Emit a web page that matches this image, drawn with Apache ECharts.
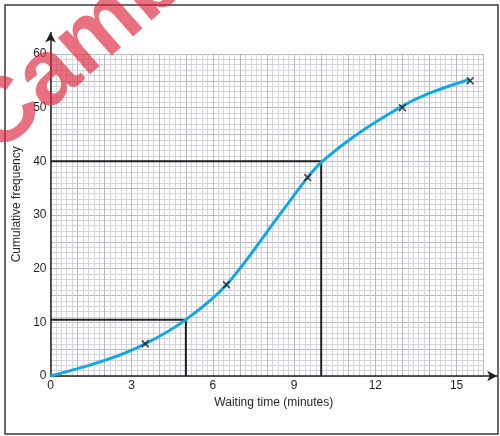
<!DOCTYPE html>
<html><head><meta charset="utf-8">
<script src="https://cdn.jsdelivr.net/npm/echarts@6/dist/echarts.min.js"></script>
<style>html,body{margin:0;padding:0;background:#fff}#c{width:500px;height:436px}</style>
</head><body><div id="c"></div>
<script>
// ---- data ----
const xTickLabels = [0, 3, 6, 9, 12, 15];
const yTickLabels = [0, 10, 20, 30, 40, 50, 60];
const plottedTimes = [3.5, 6.5, 9.5, 13, 15.5];
const plottedCumFreq = [6, 17, 37, 50, 55];
const curveTimes = [0, 2, 3.5, 5, 6.5, 8.5, 9.5, 10, 11.2, 13, 14, 15.5];
const curveCumFreq = [0, 2.9, 6, 10.5, 17, 30.3, 37, 39.8, 44.6, 50.3, 52.7, 55.3];
const lowerReadTimes = [0, 5, 5];
const lowerReadFreqs = [10.5, 10.5, 0];
const upperReadTimes = [0, 10, 10];
const upperReadFreqs = [40, 40, 0];
const xAxisTitle = 'Waiting time (minutes)';
const yAxisTitle = 'Cumulative frequency';
const watermarkText = 'Cambridge';

// ---- layout ----
const LEFT = 50.5, BASE = 376;
const XPX = 27.07, YPX = 322 / 60;
const PAPER_X = 16, PAPER_Y = 60;
const AXIS_XMAX = 16.5, AXIS_YMAX = 64;
const INK = '#231f20';
const FONT = '"Liberation Sans", Arial, sans-serif';

const zip = (a, b) => a.map((v, i) => [v, b[i]]);

const chart = echarts.init(document.getElementById('c'), null, {renderer: 'canvas'});
chart.setOption({
  animation: false,
  backgroundColor: '#ffffff',
  grid: [
    {left: LEFT, top: BASE - PAPER_Y * YPX, width: PAPER_X * XPX, height: PAPER_Y * YPX},
    {left: LEFT, top: BASE - AXIS_YMAX * YPX, width: AXIS_XMAX * XPX, height: AXIS_YMAX * YPX}
  ],
  xAxis: [
    {gridIndex: 0, type: 'value', min: 0, max: PAPER_X, interval: 1,
      axisLine: {show: false}, axisTick: {show: false}, axisLabel: {show: false},
      splitLine: {show: true, lineStyle: {color: '#b8b8c0', width: 1}},
      minorTick: {show: false, splitNumber: 5},
      minorSplitLine: {show: true, lineStyle: {color: '#d4d4da', width: 1}}},
    {gridIndex: 1, type: 'value', min: 0, max: AXIS_XMAX,
      axisLine: {show: true, onZero: false, symbol: ['none', 'arrow'], symbolSize: [8, 10],
        lineStyle: {color: INK, width: 1.5}},
      axisTick: {show: false}, splitLine: {show: false},
      axisLabel: {customValues: xTickLabels, color: INK, fontSize: 12, fontFamily: FONT, margin: 4},
      name: xAxisTitle, nameLocation: 'middle', nameGap: 19,
      nameTextStyle: {color: INK, fontSize: 12, fontFamily: FONT}}
  ],
  yAxis: [
    {gridIndex: 0, type: 'value', min: 0, max: PAPER_Y, interval: 5,
      axisLine: {show: false}, axisTick: {show: false}, axisLabel: {show: false},
      splitLine: {show: true, lineStyle: {color: '#b8b8c0', width: 1}},
      minorTick: {show: false, splitNumber: 5},
      minorSplitLine: {show: true, lineStyle: {color: '#d4d4da', width: 1}}},
    {gridIndex: 1, type: 'value', min: 0, max: AXIS_YMAX,
      axisLine: {show: true, onZero: false, symbol: ['none', 'arrow'], symbolSize: [8, 10],
        lineStyle: {color: INK, width: 1.5}},
      axisTick: {show: false}, splitLine: {show: false},
      axisLabel: {customValues: yTickLabels, color: INK, fontSize: 12, fontFamily: FONT, margin: 4},
      name: yAxisTitle, nameLocation: 'middle', nameGap: 28,
      nameTextStyle: {color: INK, fontSize: 12, fontFamily: FONT}}
  ],
  series: [
    {type: 'line', xAxisIndex: 1, yAxisIndex: 1, data: zip(lowerReadTimes, lowerReadFreqs),
      symbol: 'none', lineStyle: {color: INK, width: 2}, z: 3},
    {type: 'line', xAxisIndex: 1, yAxisIndex: 1, data: zip(upperReadTimes, upperReadFreqs),
      symbol: 'none', lineStyle: {color: INK, width: 2}, z: 3},
    {type: 'line', xAxisIndex: 1, yAxisIndex: 1, data: zip(curveTimes, curveCumFreq),
      smooth: 0.35, symbol: 'none',
      lineStyle: {color: '#12a8e3', width: 3}, z: 4},
    {type: 'scatter', xAxisIndex: 1, yAxisIndex: 1, data: zip(plottedTimes, plottedCumFreq),
      symbol: 'path://M0,1.5L1.5,0L5,3.5L8.5,0L10,1.5L6.5,5L10,8.5L8.5,10L5,6.5L1.5,10L0,8.5L3.5,5Z',
      symbolSize: 8, itemStyle: {color: INK}, z: 5}
  ],
  graphic: [
    {type: 'rect', shape: {x: 5, y: 5, width: 493, height: 429},
      style: {fill: 'none', stroke: '#3a3a3a', lineWidth: 1.5}, z: 50},
    {type: 'text', x: -20, y: 137, rotation: 0.72, z: 100,
      style: {text: watermarkText, font: 'bold 92px ' + FONT, fill: 'rgba(222,40,60,0.66)',
        textAlign: 'left', textVerticalAlign: 'middle'}}
  ]
});
</script></body></html>
